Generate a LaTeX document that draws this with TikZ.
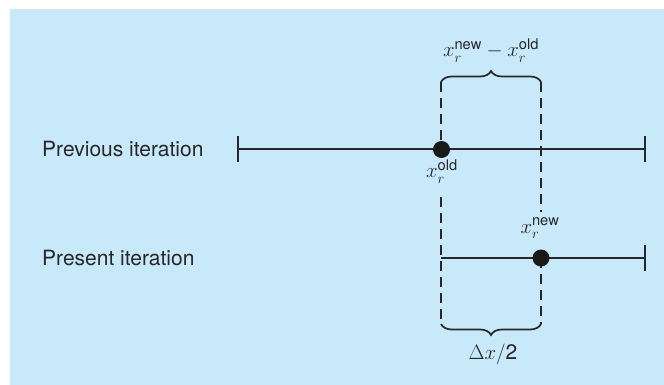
\documentclass[tikz,border=0pt]{standalone}
\usepackage{fontspec}
\setmainfont{TeX Gyre Heros}
\usetikzlibrary{decorations.pathreplacing}
\definecolor{panelblue}{RGB}{199,233,249}
\definecolor{inkgray}{RGB}{40,38,40}
\begin{document}
\begin{tikzpicture}[x=1pt,y=-1pt,
    axis/.style={line width=2pt, draw=inkgray},
    guide/.style={line width=1.8pt, draw=inkgray, dash pattern=on 10pt off 6pt},
    rootdot/.style={circle, fill=black!90, inner sep=0pt, minimum size=17pt},
    lbl/.style={font=\fontsize{21}{25}\selectfont, text=inkgray, inner sep=0pt},
    bracebox/.style={line width=1.7pt, draw=inkgray, decorate,
      decoration={brace, amplitude=11pt}}]
  \useasboundingbox (0,0) rectangle (664,385);
  % Panel
  \fill[panelblue] (10,9) rectangle (664,385);
  % Row captions
  \node[lbl, anchor=base west] (prevtxt) at (42,157) {Previous iteration};
  \node[lbl, anchor=base west] (prestxt) at (42,265) {Present iteration};
  % Interval ends
  \coordinate (prevL) at (238,149.5);
  \coordinate (prevR) at (645,149.5);
  \coordinate (presL) at (441,258);
  \coordinate (presR) at (645,258);
  % Guide end points
  \coordinate (oldtop) at (441,82);
  \coordinate (newtop) at (541,82);
  \coordinate (oldbot) at (441,324);
  \coordinate (newbot) at (541,324);
  \coordinate (oldgap) at (441,197);
  \coordinate (newgap) at (541,212);
  % Dashed guides
  \draw[guide] (oldtop) -- (441,149.5);
  \draw[guide] (oldgap) -- (oldbot);
  \draw[guide] (newtop) -- (newgap);
  \draw[guide] (541,258) -- (newbot);
  % Intervals with end ticks
  \draw[axis] (prevL) -- (prevR);
  \draw[axis] ([yshift=-13pt]prevL) -- ([yshift=13pt]prevL);
  \draw[axis] ([yshift=-13pt]prevR) -- ([yshift=13pt]prevR);
  \draw[axis] (presL) -- (presR);
  \draw[axis] ([yshift=-13pt]presR) -- ([yshift=13pt]presR);
  % Root estimates
  \node[rootdot] (xold) at (441.5,149.5) {};
  \node[rootdot] (xnew) at (541,258) {};
  \node[lbl, anchor=base] (xoldlbl) at (442,178) {$x_r^{\mathrm{old}}$};
  \node[lbl, anchor=base] (xnewlbl) at (540,233) {$x_r^{\mathrm{new}}$};
  % Braces
  \draw[bracebox] (oldtop) -- (newtop);
  \draw[bracebox, decoration={mirror}] (oldbot) -- (newbot);
  \node[lbl, anchor=base] (difflbl) at (491,57) {$x_r^{\mathrm{new}} - x_r^{\mathrm{old}}$};
  \node[lbl, anchor=base] (halflbl) at (493,359) {$\Delta x/\mathrm{2}$};
\end{tikzpicture}
\end{document}
